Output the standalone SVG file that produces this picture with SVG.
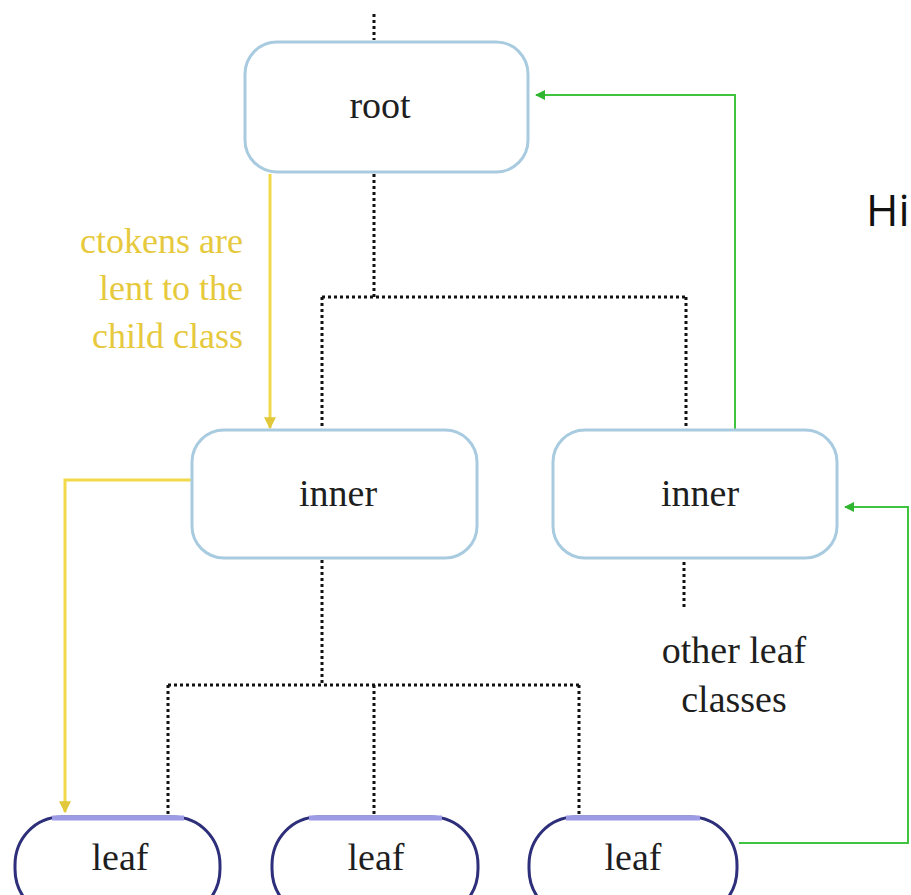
<svg xmlns="http://www.w3.org/2000/svg" width="911" height="895" viewBox="0 0 911 895">
  <style>
    .cls { fill: #ffffff; stroke: #a9cbe0; stroke-width: 3; }
    .leaf { fill: #ffffff; stroke: #2e2f7a; stroke-width: 3; }
    .leaftop { fill: none; stroke: #9d9be6; stroke-width: 5; }
    .lbl { font-family: "Liberation Serif", "Times New Roman", serif; font-size: 38px; fill: #1e1e1e; text-anchor: middle; }
    .note { font-family: "Liberation Serif", "Times New Roman", serif; font-size: 36px; fill: #e6c93c; text-anchor: end; }
    .dot { fill: none; stroke: #111111; stroke-width: 3; stroke-dasharray: 3 3; }
    .green { fill: none; stroke: #3ec43e; stroke-width: 2; }
    .yellow { fill: none; stroke: #f2d94a; stroke-width: 3; }
    .title { font-family: "Open Sans", "Noto Sans", sans-serif; font-size: 44px; fill: #111111; }
  </style>
  <defs>
    <marker id="gArrow" viewBox="0 0 10 10" refX="9" refY="5" markerWidth="5" markerHeight="5" orient="auto">
      <path d="M0,0 L10,5 L0,10 z" fill="#2fb52f"/>
    </marker>
    <marker id="yArrow" viewBox="0 0 10 10" refX="9" refY="5" markerWidth="4" markerHeight="4" orient="auto">
      <path d="M0,0 L10,5 L0,10 z" fill="#e0c83a"/>
    </marker>
  </defs>
  <rect width="911" height="895" fill="#ffffff"/>

  <!-- connectors -->
  <g id="connectors">
    <!-- inheritance tree (dotted) -->
    <path class="dot" d="M374,14 V40"/>
    <path class="dot" d="M374,174 V297 M322,297 H686 M322,297 V430 M686,297 V430"/>
    <path class="dot" d="M322,560 V685 M168,685 H579 M168,685 V815 M374,685 V815 M579,685 V815"/>
    <path class="dot" d="M684,562 V610"/>
    <!-- token flow (green) -->
    <path class="green" d="M735,430 V95 H536" marker-end="url(#gArrow)"/>
    <path class="green" d="M739,843 H908 V507 H845" marker-end="url(#gArrow)"/>
    <!-- token lending (yellow) -->
    <path class="yellow" d="M270,174 V428" marker-end="url(#yArrow)"/>
    <path class="yellow" d="M192,480 H65 V812" marker-end="url(#yArrow)"/>
  </g>

  <g id="root">
    <rect class="cls" x="245" y="42" width="283" height="130" rx="32"/>
    <text class="lbl" x="380" y="118">root</text>
  </g>

  <g id="inner-left">
    <rect class="cls" x="192" y="430" width="285" height="128" rx="32"/>
    <text class="lbl" x="338" y="506">inner</text>
  </g>

  <g id="inner-right">
    <rect class="cls" x="553" y="430" width="284" height="128" rx="32"/>
    <text class="lbl" x="700" y="506">inner</text>
  </g>

  <g id="other-leaves">
    <text class="lbl" x="734" y="663">other leaf</text>
    <text class="lbl" x="734" y="712">classes</text>
  </g>

  <g id="leaf-1">
    <rect class="leaf" x="15" y="817" width="205" height="100" rx="46" ry="48"/>
    <path class="leaftop" d="M52,818 H184"/>
    <text class="lbl" x="120" y="870">leaf</text>
  </g>

  <g id="leaf-2">
    <rect class="leaf" x="272" y="817" width="206" height="100" rx="46" ry="48"/>
    <path class="leaftop" d="M309,818 H442"/>
    <text class="lbl" x="376" y="870">leaf</text>
  </g>

  <g id="leaf-3">
    <rect class="leaf" x="529" y="817" width="208" height="100" rx="46" ry="48"/>
    <path class="leaftop" d="M566,818 H700"/>
    <text class="lbl" x="633" y="870">leaf</text>
  </g>

  <g id="lend-note">
    <text class="note" x="243" y="253">ctokens are</text>
    <text class="note" x="243" y="300">lent to the</text>
    <text class="note" x="243" y="348">child class</text>
  </g>

  <text class="title" x="866" y="226">Hi</text>
</svg>
